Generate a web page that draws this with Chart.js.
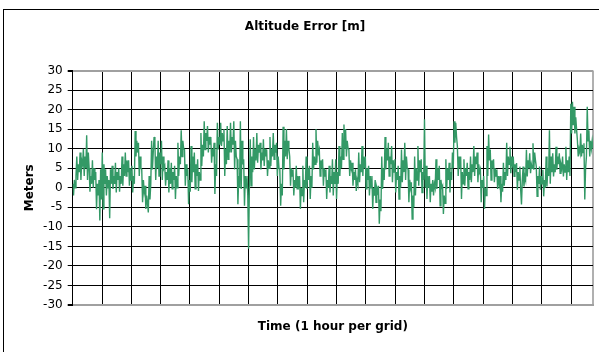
<!DOCTYPE html>
<html><head><meta charset="utf-8">
<script src="https://cdn.jsdelivr.net/npm/chart.js@4"></script>
<style>html,body{margin:0;padding:0;background:#fff}canvas{display:block}</style>
</head><body>
<canvas id="c" width="599" height="352" style="width:599px;height:352px"></canvas>
<script>
const chartTitle = 'Altitude Error [m]';
const yAxisTitle = 'Meters';
const xAxisTitle = 'Time (1 hour per grid)';
const yTickValues = [-30, -25, -20, -15, -10, -5, 0, 5, 10, 15, 20, 25, 30];
const totalHours = 17.75;
const hourGrid = [0,1,2,3,4,5,6,7,8,9,10,11,12,13,14,15,16,17,17.75];

// altitude error samples [m], in time order
const errPart1 = [1,-2,2,0, 3,8,2,6, 4,9,2,7, 6,10,3,8, 5,13.4,2,9, 5,-1,3,1, 7,0,5,2,
  4,-5.5,1,-2, 2,-8.4,4.7,-3, 9,-5.4,6,1, 4.7,-2,3,0, 2,-7.8,4.7,1, 5.6,-0.3,3,1,
  6.4,-1.2,4,2, 5,-1,3,1, 8,0.5,6,3, 9,3,7,4, 7,0.5,5,2, 5.6,-1.2,3,1, 14.5,8,12,9,
  11.5,3,8,5, 4.7,-3.7,2,-1, 0.5,-5.4,-2,-4, -6.3,3,-3,1, 12,4.7,9,13, 11.5,2,8,5, 12,3,9,6];
const errPart2 = [12,2,8,5, 5.6,0.5,4,2, 7,-1.2,5,1, 6.4,-0.3,4,2, 5.6,-2.9,3,0, 11.5,3,8,6,
  14.7,8,12,10, 9.8,0.5,6,3, 4.7,-4.2,2,-1, 10.7,1.4,8,4, 9,-0.3,6,3, 7.3,-0.8,4,2,
  14,5.6,11,8, 17,9.8,14,12, 15.8,9,13,11, 13,6.4,10,8, 11.5,-1.6,6,3, 16.6,9.8,13,11,
  16.6,10.7,14,12, 15,3,10,6, 15.8,7.3,12,9, 16.6,9,13,11, 17,4.7,12,8, 7.3,-4.2,3,0,
  17,-0.3,12,6, 7.3,-4.6,3,0, 3,-2,-15.6,1];
const errPart3 = [12.4,0.5,8,4, 13,4.7,10,7, 14,6.4,11,9, 11.5,4.7,9,7, 12.4,5.6,10,8,
  9.8,3,7,5, 13,5.6,10,8, 14,7.3,11,9, 11.5,3,8,5, 4.7,-4.6,1,-2, 15.6,4.7,12,8,
  15,7.3,12,10, 8,0.5,5,3, 4.7,-2,2,0, 5.6,-0.3,3,1, 3,-5.4,0,-2, 5.6,-3.7,2,0,
  8,-0.3,5,2, 5.6,-2.9,3,0, 11.5,4.7,8,6, 15,6.4,12,9, 9.8,3,7,5, 7.3,0.5,5,3,
  4.7,-2.9,2,0, 5.6,-1.2,3,1, 7.3,-2,4,1];
const errPart4 = [7.3,-2.9,4,1, 10.7,3,8,5, 14,7.3,16.2,10, 15,8,12,10, 9.8,3,7,5,
  6.4,0.5,4,2, 4.7,-0.8,2,1, 9,1.4,6,4, 10.7,3,8,5, 8,-0.3,5,2, 5.6,-2,3,0,
  3,-5.4,0,-2, 2,-3.7,0,-1, 0.5,-9.2,-3,-6, 8,-0.3,5,2, 13,4.7,10,7, 11.5,3,8,6,
  10.7,1.4,7,4, 7.3,-1.2,4,2, 5.6,-2.9,3,0, 9.8,1.4,7,4, 11.5,2,8,5, 4.7,-3.7,2,0,
  1.4,-8,-2,-5, 8,-2,5,2, 10.7,0.5,7,4];
const errPart5 = [7.3,-1.2,4,2, 17.5,0, 5.6,-2.9,3,0, 3,-3.7,1,-1, 2,-2,1,0, 7.3,-0.3,5,2,
  5.6,-4.6,2,0, 0.5,-6.7,-2,-4, 7.3,-0.3,5,2, 6.4,-1.2,4,2, 9,5, 17,11.5,16.6,13,
  10.7,3,8,5, 8,-2.9,4,1, 7.3,0.5,5,3, 6.4,-0.3,4,2, 8,1.4,6,4, 10.7,3,8,6,
  9,1.4,6,4, 4.7,-3.7,2,0, 3,-5.4,0,-2, 10.7,3,13.6,7, 9.8,2,7,5, 7.3,1.4,5,3,
  4.7,-0.3,3,1, 3,-3.7,1,-1, 6.4,0.5,4,2, 11.5,3,8,6];
const errPart6 = [10.5,3.7,8,6, 8,2.9,6,4, 6.3,-0.5,4,2, 5.4,-0.5,-4.3,2, 5.4,0.3,3,2,
  9.7,2.9,7,5, 8.8,3.7,6,5, 11.4,4.6,9,7, 5.4,-2.2,3,1, 5.4,-0.5,3,1, 4.6,-2.2,2,0,
  8,0.3,5,3, 14.7,1,8,4, 8.8,2.9,6,4, 10.5,4.6,8,6, 8.8,3.7,6,5, 8,2.9,6,4,
  10.5,2,7,4, 8,3, 21.5,13.9,22,16, 20.7,13.9,18,15, 12.2,8,10,9, 13.9,8,11,9,
  11.4,-3,5,8, 20.7,12, 14.7,8,12,10, 12,10];

const altitudeError = [].concat(errPart1, errPart2, errPart3, errPart4, errPart5, errPart6);
const points = altitudeError.map((v, i) => ({x: i * totalHours / (altitudeError.length - 1), y: v}));

Chart.defaults.font.family = "'DejaVu Sans', sans-serif";
Chart.defaults.color = '#000';

const framePlugin = {
  id: 'frame',
  beforeDraw(chart) {
    const c = chart.ctx;
    c.save(); c.fillStyle = '#fff'; c.fillRect(0, 0, chart.width, chart.height); c.restore();
  },
  afterDraw(chart) {
    const c = chart.ctx;
    c.save(); c.strokeStyle = '#000'; c.lineWidth = 1;
    c.strokeRect(3.5, 9.5, 700, 700);
    c.restore();
  }
};

new Chart(document.getElementById('c'), {
  type: 'line',
  data: {
    datasets: [{
      data: points,
      borderColor: '#339966',
      borderWidth: 1.4,
      pointRadius: 0,
      tension: 0,
      fill: false
    }]
  },
  options: {
    responsive: false,
    devicePixelRatio: 1,
    animation: false,
    events: [],
    layout: {padding: {left: 17, right: 6, top: 0, bottom: 0}},
    plugins: {
      legend: {display: false},
      tooltip: {enabled: false},
      title: {
        display: true,
        text: chartTitle,
        font: {size: 12, weight: 'bold'},
        padding: {top: 20, bottom: 36.1},
        color: '#000'
      }
    },
    scales: {
      x: {
        type: 'linear',
        min: 0,
        max: totalHours,
        afterBuildTicks: s => { s.ticks = hourGrid.map(v => ({value: v})); },
        afterFit: s => { s.height = 47; },
        ticks: {display: false},
        grid: {
          drawTicks: false,
          color: ctx => (ctx.tick && ctx.tick.value > 17.5) ? '#b0b0b0' : '#000',
          lineWidth: ctx => (ctx.tick && ctx.tick.value > 17.5) ? 2 : 1
        },
        border: {display: true, color: '#a0a0a0', width: 2},
        title: {
          display: true,
          text: xAxisTitle,
          font: {size: 12, weight: 'bold'},
          padding: {top: 0, bottom: 17.8},
          color: '#000'
        }
      },
      y: {
        type: 'linear',
        min: -30,
        max: 30,
        afterBuildTicks: s => { s.ticks = yTickValues.map(v => ({value: v})); },
        afterFit: s => { s.width = 55.7; },
        ticks: {font: {size: 12}, padding: 5, color: '#000'},
        grid: {
          tickLength: 5,
          tickColor: '#000',
          color: ctx => (ctx.tick && Math.abs(ctx.tick.value) === 30) ? '#a0a0a0' : '#000',
          lineWidth: ctx => (ctx.tick && Math.abs(ctx.tick.value) === 30) ? 2 : 1
        },
        border: {display: true, color: '#000', width: 1},
        title: {
          display: true,
          text: yAxisTitle,
          font: {size: 12, weight: 'bold'},
          padding: {top: 5.8, bottom: 0},
          color: '#000'
        }
      }
    }
  },
  plugins: [framePlugin]
});
</script>
</body></html>
